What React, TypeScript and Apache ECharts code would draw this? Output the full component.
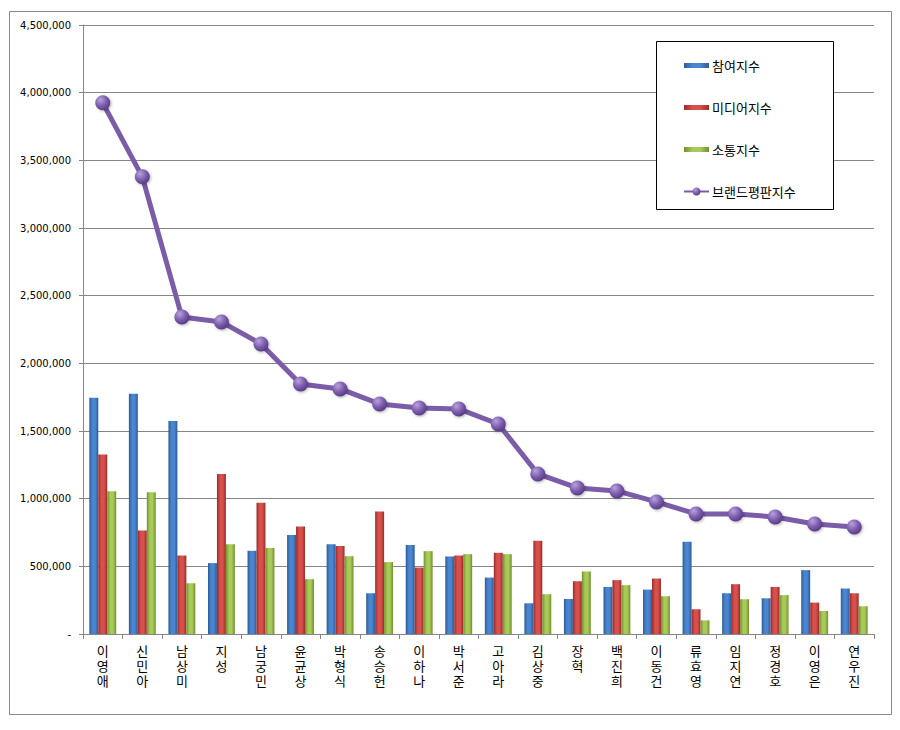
import React, { useEffect, useRef } from "react";
import * as echarts from "echarts";

const categories = [
  "이영애", "신민아", "남상미", "지성", "남궁민", "윤균상", "박형식", "송승헌", "이하나", "박서준",
  "고아라", "김상중", "장혁", "백진희", "이동건", "류효영", "임지연", "정경호", "이영은", "연우진",
];
const participation = [
  1746000, 1776000, 1573000, 524000, 615000, 731000, 664000, 301000, 657000, 573000,
  417000, 227000, 259000, 348000, 328000, 681000, 301000, 264000, 472000, 336000,
];
const media = [
  1326000, 765000, 580000, 1183000, 970000, 795000, 650000, 906000, 491000, 580000,
  600000, 689000, 390000, 398000, 410000, 183000, 368000, 348000, 232000, 301000,
];
const communication = [
  1054000, 1047000, 375000, 664000, 635000, 405000, 575000, 531000, 612000, 590000,
  590000, 294000, 462000, 361000, 279000, 101000, 257000, 287000, 170000, 205000,
];
const brand = [
  3925000, 3378000, 2343000, 2306000, 2143000, 1848000, 1811000, 1700000, 1670000, 1663000,
  1552000, 1183000, 1079000, 1057000, 976000, 887000, 887000, 865000, 813000, 791000,
];
const seriesNames = ["참여지수", "미디어지수", "소통지수", "브랜드평판지수"];
const yTicks = { min: 0, max: 4500000, interval: 500000 };

function barGradient(dark: string, light: string) {
  return new echarts.graphic.LinearGradient(0, 0, 1, 0, [
    { offset: 0, color: dark },
    { offset: 0.35, color: light },
    { offset: 0.65, color: light },
    { offset: 1, color: dark },
  ]);
}

export default function App() {
  const ref = useRef<HTMLDivElement>(null);
  useEffect(() => {
    document.body.style.margin = "0";
    if (!ref.current) return;
    const chart = echarts.init(ref.current, undefined, { renderer: "svg" });
    const blue = barGradient("#2D5B97", "#4A86CF");
    const red = barGradient("#9A2C29", "#D8504C");
    const green = barGradient("#72902F", "#A8CA58");
    const marker = new echarts.graphic.RadialGradient(0.35, 0.3, 0.8, [
      { offset: 0, color: "#B8A2DB" },
      { offset: 0.5, color: "#7E5FB0" },
      { offset: 1, color: "#4E3478" },
    ]);
    const barCommon = {
      type: "bar" as const,
      barGap: "0%",
      barCategoryGap: "32%",
    };
    chart.setOption({
      animation: false,
      backgroundColor: "#ffffff",
      textStyle: { fontFamily: "'Noto Sans CJK KR', 'DejaVu Sans', sans-serif" },
      grid: { left: 83, right: 26, top: 25, bottom: 96 },
      graphic: [
        {
          type: "rect",
          shape: { x: 9.5, y: 11.5, width: 882, height: 703 },
          style: { fill: "none", stroke: "#8A8A8A", lineWidth: 1 },
          silent: true,
        },
        {
          type: "rect",
          shape: { x: 656.5, y: 41.5, width: 177, height: 168 },
          style: { fill: "#ffffff", stroke: "#000000", lineWidth: 1 },
          z: 10,
          silent: true,
        },
      ],
      legend: {
        orient: "vertical",
        left: 683,
        top: 56,
        padding: 0,
        itemGap: 23,
        itemWidth: 25,
        itemHeight: 10,
        z: 20,
        textStyle: {
          fontSize: 13,
          color: "#000",
          fontFamily: "'Noto Sans CJK KR', sans-serif",
          padding: [3, 0, 0, -2],
          lineHeight: 16,
        },
        data: [
          { name: seriesNames[0], icon: "path://M0,0 L25,0 L25,5 L0,5 Z" },
          { name: seriesNames[1], icon: "path://M0,0 L25,0 L25,5 L0,5 Z" },
          { name: seriesNames[2], icon: "path://M0,0 L25,0 L25,5 L0,5 Z" },
          { name: seriesNames[3] },
        ],
      },
      xAxis: {
        type: "category",
        data: categories,
        axisLine: { lineStyle: { color: "#868686" } },
        axisTick: { show: true, length: 5, lineStyle: { color: "#868686" } },
        axisLabel: {
          interval: 0,
          margin: 10,
          fontSize: 13,
          lineHeight: 15,
          color: "#000",
          fontFamily: "'Liberation Sans', 'Noto Sans CJK KR', sans-serif",
          formatter: (v: string) => v.split("").join("\n"),
        },
      },
      yAxis: {
        type: "value",
        min: yTicks.min,
        max: yTicks.max,
        interval: yTicks.interval,
        axisLine: { show: true, lineStyle: { color: "#868686" } },
        axisTick: { show: true, length: 4, lineStyle: { color: "#868686" } },
        splitLine: { lineStyle: { color: "#868686", width: 1 } },
        axisLabel: {
          margin: 12,
          fontSize: 10,
          color: "#000",
          fontFamily: "'DejaVu Sans', sans-serif",
          formatter: (v: number) => (v === 0 ? "-" : v.toLocaleString("en-US")),
        },
      },
      series: [
        { ...barCommon, name: seriesNames[0], data: participation, itemStyle: { color: blue } },
        { ...barCommon, name: seriesNames[1], data: media, itemStyle: { color: red } },
        { ...barCommon, name: seriesNames[2], data: communication, itemStyle: { color: green } },
        {
          type: "line",
          name: seriesNames[3],
          data: brand,
          symbol: "circle",
          symbolSize: 15,
          lineStyle: { color: "#7B5CA8", width: 5 },
          itemStyle: {
            color: marker,
            borderWidth: 0,
            shadowColor: "rgba(0,0,0,0.3)",
            shadowBlur: 3,
            shadowOffsetX: 1,
            shadowOffsetY: 1,
          },
          z: 5,
        },
      ],
    });
    return () => chart.dispose();
  }, []);
  return <div ref={ref} style={{ width: 900, height: 730 }} />;
}
